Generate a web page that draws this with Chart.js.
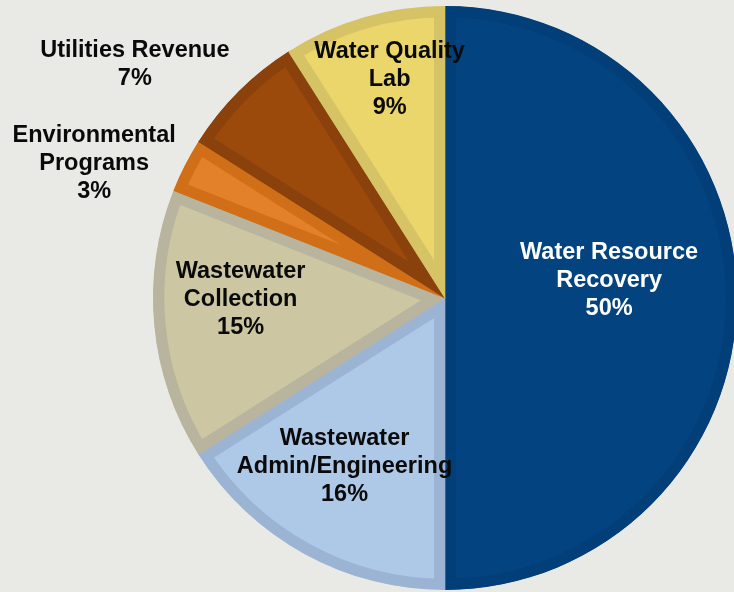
<!DOCTYPE html>
<html>
<head>
<meta charset="utf-8">
<title>Budget share by program</title>
<script src="https://cdn.jsdelivr.net/npm/chart.js@4/dist/chart.umd.min.js"></script>
<style>
    html, body {
        margin: 0;
        padding: 0;
        width: 734px;
        height: 592px;
        overflow: hidden;
        background: #e9e9e5;
    }
    #wrap {
        position: absolute;
        left: 0;
        top: 6px;
        width: 890px;
        height: 584px;
    }
</style>
</head>
<body>
<div id="wrap"><canvas id="pieChart"></canvas></div>
<script>
// Slices, clockwise from 12 o'clock
const categories = [
    'Water Resource Recovery',
    'Wastewater Admin/Engineering',
    'Wastewater Collection',
    'Environmental Programs',
    'Utilities Revenue',
    'Water Quality Lab'
];
const shares = [50, 16, 15, 3, 7, 9];

// How each label wraps on the picture
const labelLines = [
    ['Water Resource', 'Recovery'],
    ['Wastewater', 'Admin/Engineering'],
    ['Wastewater', 'Collection'],
    ['Environmental', 'Programs'],
    ['Utilities Revenue'],
    ['Water Quality', 'Lab']
];

// Colours: fill and inner bevel band
const fillColors = ['#03437f', '#aec8e7', '#ccc7a2', '#e3812a', '#9b4a0c', '#ebd66c'];
const bandColors = ['#023f79', '#9bb4d3', '#b8b49d', '#d06f18', '#8a410b', '#d6c366'];
const textColors = ['#ffffff', '#0a0a0a', '#0a0a0a', '#0a0a0a', '#0a0a0a', '#0a0a0a'];

// Label anchor: fraction of radius and angle shift (deg) from slice middle
const labelPlacement = [
    { r: 0.565, da: -6 },
    { r: 0.672, da: 2 },
    { r: 0.70, da: 5 },
    { r: 1.287, da: -6 },
    { r: 1.33, da: -8 },
    { r: 0.773, da: 2 }
];

const sliceLabels = {
    id: 'sliceLabels',
    afterDatasetsDraw(chart) {
        const ctx = chart.ctx;
        const arcs = chart.getDatasetMeta(0).data;
        const lineHeight = 28;

        ctx.save();
        ctx.font = "bold 23.5px 'Liberation Sans', Arial, sans-serif";
        ctx.textAlign = 'center';
        ctx.textBaseline = 'middle';

        arcs.forEach((arc, i) => {
            const { x, y, startAngle, endAngle, outerRadius } = arc.getProps(
                ['x', 'y', 'startAngle', 'endAngle', 'outerRadius'], true);
            const place = labelPlacement[i];
            const angle = (startAngle + endAngle) / 2 + place.da * Math.PI / 180;
            const cx = x + Math.cos(angle) * outerRadius * place.r;
            const cy = y + Math.sin(angle) * outerRadius * place.r;

            const lines = labelLines[i].concat([shares[i] + '%']);
            const top = cy - (lines.length - 1) * lineHeight / 2;
            ctx.fillStyle = textColors[i];
            lines.forEach((text, k) => {
                ctx.fillText(text, cx, top + k * lineHeight);
            });
        });
        ctx.restore();
    }
};

new Chart(document.getElementById('pieChart'), {
    type: 'pie',
    data: {
        labels: categories,
        datasets: [{
            data: shares,
            backgroundColor: fillColors,
            borderColor: bandColors,
            borderWidth: 11,
            hoverBorderWidth: 11,
            borderAlign: 'inner',
            hoverOffset: 0,
            offset: 0
        }]
    },
    options: {
        responsive: true,
        maintainAspectRatio: false,
        animation: false,
        events: [],
        layout: { padding: 0 },
        plugins: {
            legend: { display: false },
            tooltip: { enabled: false }
        }
    },
    plugins: [sliceLabels]
});
</script>
</body>
</html>
